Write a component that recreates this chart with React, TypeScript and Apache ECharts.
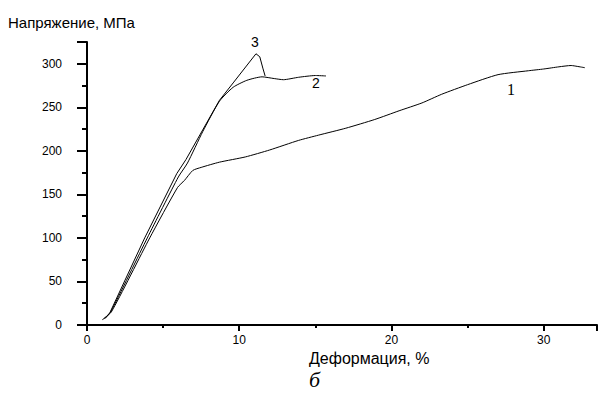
import React, { useEffect, useRef } from "react";
import * as echarts from "echarts";

// Curve 1
const strain1 = [1.0, 1.6, 4.12, 5.95, 6.4, 6.95, 7.5, 8.7, 10.4, 12.0, 13.9, 15.2, 17.0, 18.9, 20.5, 22.0, 23.3, 25.0, 27.0, 29.0, 30.0, 31.0, 31.8, 32.2, 32.7];
const stress1 = [6, 15, 100, 158, 166, 177.5, 181, 187, 193, 201, 212, 218, 226, 236, 246, 255, 265, 276, 287.5, 292, 294, 296.5, 298, 297, 295.5];
// Curve 2
const strain2 = [1.1, 1.55, 3.96, 6.0, 6.6, 7.6, 8.7, 9.6, 10.5, 11.5, 12.3, 12.9, 13.9, 15.0, 15.7];
const stress2 = [7, 15, 100, 170, 186, 222, 257, 273, 281, 285, 283, 281.7, 284.5, 286.5, 286];
// Curve 3
const strain3 = [1.2, 1.5, 3.79, 5.9, 6.5, 7.6, 8.7, 9.6, 11.1, 11.35, 11.55, 11.7];
const stress3 = [7.5, 14, 100, 174, 190, 224, 258, 278, 311.5, 308, 295, 286];

const xMax = 33.5;
const yMax = 325;

const yTitle = "Напряжение, МПа";
const xTitle = "Деформация, %";
const curveLabels = ["1", "2", "3"];

const zip = (xs: number[], ys: number[]) => xs.map((x, i) => [x, ys[i]]);

export default function App() {
  const ref = useRef<HTMLDivElement>(null);
  useEffect(() => {
    document.body.style.margin = "0";
    if (!ref.current) return;
    const chart = echarts.init(ref.current, undefined, { renderer: "svg" });
    const mk = (xs: number[], ys: number[], smooth: number) => ({
      type: "line",
      data: zip(xs, ys),
      showSymbol: false,
      smooth,
      lineStyle: { color: "#000", width: 1 },
    });
    const ttl = (text: string, left: number, top: number, size: number, family: string, italic = false) => ({
      text,
      left,
      top,
      padding: 0,
      textStyle: { fontSize: size, fontFamily: family, fontStyle: italic ? "italic" : "normal", fontWeight: "normal", color: "#000" },
    });
    chart.setOption({
      animation: false,
      title: [
        ttl(yTitle, 8, 15, 15, "Liberation Sans"),
        ttl(xTitle, 309, 350, 16, "Liberation Sans"),
        ttl("б", 309, 368, 22, "Liberation Serif", true),
        ttl(curveLabels[2], 251, 35, 14, "Liberation Sans"),
        ttl(curveLabels[1], 312, 76, 14, "Liberation Sans"),
        ttl(curveLabels[0], 507, 81, 16, "Liberation Serif"),
      ],
      grid: { left: 87, right: 1, top: 42, bottom: 69 },
      xAxis: {
        type: "value",
        min: 0,
        max: xMax,
        interval: 10,
        axisLine: { show: true, lineStyle: { color: "#000", width: 2 } },
        axisTick: { show: true, length: 6, lineStyle: { color: "#000", width: 2 } },
        minorTick: { show: true, splitNumber: 2, length: 3, lineStyle: { color: "#000", width: 2 } },
        axisLabel: { formatter: (v: number) => (v % 10 === 0 ? String(v) : ""), color: "#000", fontSize: 12, fontFamily: "Liberation Sans", margin: 9 },
        splitLine: { show: false },
      },
      yAxis: {
        type: "value",
        min: 0,
        max: yMax,
        interval: 50,
        axisLine: { show: true, lineStyle: { color: "#000", width: 2 } },
        axisTick: { show: true, length: 10, lineStyle: { color: "#000", width: 2 } },
        minorTick: { show: true, splitNumber: 2, length: 5, lineStyle: { color: "#000", width: 2 } },
        axisLabel: { formatter: (v: number) => (v % 50 === 0 ? String(v) : ""), color: "#000", fontSize: 12, fontFamily: "Liberation Sans", margin: 25 },
        splitLine: { show: false },
      },
      series: [mk(strain1, stress1, 0.2), mk(strain2, stress2, 0.2), mk(strain3, stress3, 0)],
    });
    return () => chart.dispose();
  }, []);
  return <div ref={ref} style={{ width: 600, height: 394 }} />;
}
